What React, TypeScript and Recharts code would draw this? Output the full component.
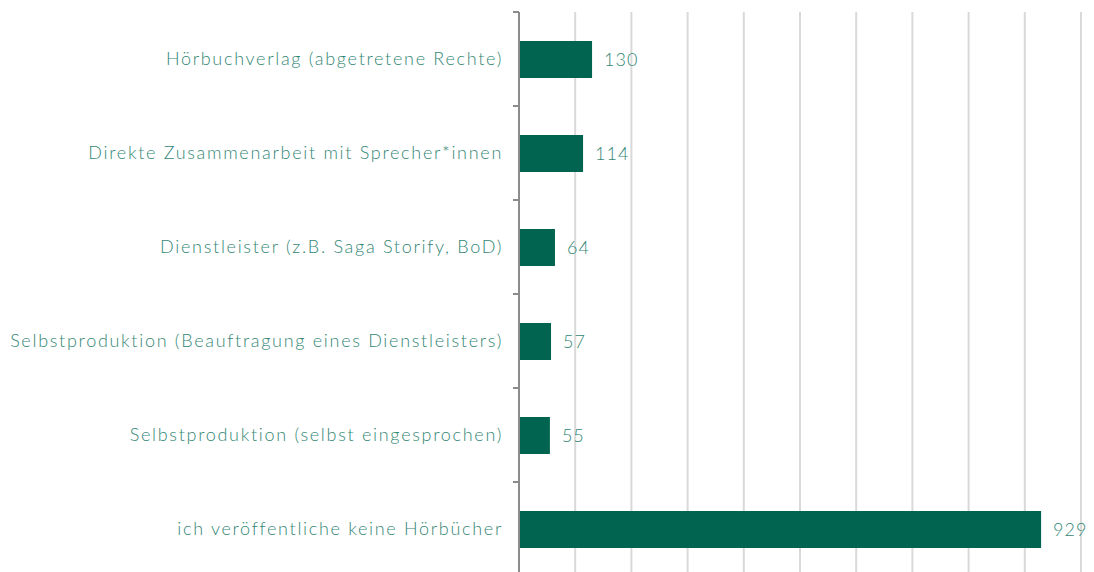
import { BarChart, Bar, XAxis, YAxis, CartesianGrid, LabelList } from 'recharts';

const categories = [
    'Hörbuchverlag (abgetretene Rechte)',
    'Direkte Zusammenarbeit mit Sprecher*innen',
    'Dienstleister (z.B. Saga Storify, BoD)',
    'Selbstproduktion (Beauftragung eines Dienstleisters)',
    'Selbstproduktion (selbst eingesprochen)',
    'ich veröffentliche keine Hörbücher',
];
const counts = [130, 114, 64, 57, 55, 929];
const xTicks = [0, 100, 200, 300, 400, 500, 600, 700, 800, 900, 1000];

const data = categories.map((name, i) => ({ name, count: counts[i] }));

const textColor = '#338775';
const barColor = '#006450';
const axisColor = '#8c8c8c';
const fontFamily = 'Lato, "Open Sans", sans-serif';
const TICK_SIZE = 6;
const TICK_MARGIN = 10;

// labels plus small tick marks on the band edges (Excel style)
const CategoryTick = (props: any) => {
    const { x, y, payload, index, visibleTicksCount } = props;
    const half = payload.offset ?? 0;
    const axisX = x + TICK_SIZE + TICK_MARGIN;
    return (
        <g>
            <line x1={axisX - TICK_SIZE} x2={axisX} y1={y - half} y2={y - half} stroke={axisColor} strokeWidth={2} />
            {index === visibleTicksCount - 1 && (
                <line x1={axisX - TICK_SIZE} x2={axisX} y1={y + half} y2={y + half} stroke={axisColor} strokeWidth={2} />
            )}
            <text
                x={x}
                y={y}
                dy="0.355em"
                textAnchor="end"
                fill={textColor}
                fontSize={18}
                fontFamily={fontFamily}
                fontWeight={300}
                letterSpacing={1.7}
            >
                {payload.value}
            </text>
        </g>
    );
};

const App = () => {
    return (
        <div style={{ position: 'absolute', left: 0, top: 0, width: 1094, height: 572, overflow: 'hidden' }}>
            <BarChart
                width={1094}
                height={580}
                data={data}
                layout="vertical"
                margin={{ top: 12, right: 13, left: 0, bottom: 4 }}
            >
                <CartesianGrid horizontal={false} stroke="#d9d9d9" strokeWidth={2} />
                <XAxis type="number" domain={[0, 1000]} ticks={xTicks} hide />
                <YAxis
                    type="category"
                    dataKey="name"
                    width={519}
                    axisLine={{ stroke: axisColor, strokeWidth: 2 }}
                    tickLine={false}
                    tickSize={TICK_SIZE}
                    tickMargin={TICK_MARGIN}
                    tick={<CategoryTick />}
                />
                <Bar dataKey="count" fill={barColor} barSize={37} isAnimationActive={false}>
                    <LabelList
                        dataKey="count"
                        position="right"
                        offset={12}
                        fill={textColor}
                        fontSize={18}
                        fontFamily={fontFamily}
                        fontWeight={300}
                        letterSpacing={1}
                    />
                </Bar>
            </BarChart>
        </div>
    );
};

export default App;
